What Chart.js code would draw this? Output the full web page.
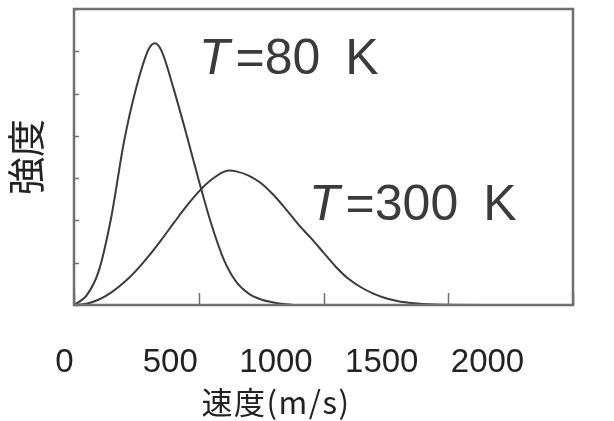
<!DOCTYPE html>
<html lang="ja">
<head>
<meta charset="utf-8">
<title>速度分布</title>
<script src="https://cdn.jsdelivr.net/npm/chart.js@4.4.1/dist/chart.umd.min.js"></script>
<style>
  html, body { margin: 0; padding: 0; background: #fff; }
  canvas { display: block; }
</style>
</head>
<body>
<canvas id="speedChart" width="614" height="421"></canvas>
<script>
// 分子の速度分布 (相対強度) — T = 80 K
const speeds80 = [0, 50, 100, 150, 200, 250, 300, 325, 350, 400, 450, 500, 550, 600, 650, 700, 750, 800, 850, 900, 1000];
const intensity80 = [0, 0.22, 0.82, 2.1, 3.85, 5.15, 6.06, 6.19, 6.02, 5.1, 4.05, 2.95, 1.92, 1.08, 0.55, 0.27, 0.13, 0.06, 0.02, 0, 0];

// T = 300 K
const speeds300 = [0, 50, 100, 150, 200, 250, 300, 350, 400, 450, 500, 550, 600, 625, 650, 700, 750, 800, 850, 900, 950, 1000, 1050, 1100, 1150, 1200, 1250, 1300, 1350, 1400, 1500, 1700];
const intensity300 = [0, 0.03, 0.13, 0.3, 0.53, 0.82, 1.16, 1.54, 1.94, 2.33, 2.68, 2.96, 3.15, 3.18, 3.16, 3.06, 2.88, 2.6, 2.26, 1.9, 1.58, 1.24, 0.9, 0.62, 0.42, 0.27, 0.16, 0.09, 0.05, 0.025, 0.005, 0];

const speedTicks = [0, 500, 1000, 1500, 2000];
const temperatures = ['80 K', '300 K'];

const LATIN = '"Liberation Sans", Arial, sans-serif';
const CJK = '"Noto Sans CJK JP", "Noto Sans CJK SC", sans-serif';
const INK = '#3b3b3b';

// where each temperature note starts, in data units (left edge / baseline)
const noteAnchors = [
  { x: 501, y: 5.46 },
  { x: 942, y: 2.02 }
];

function toPoints(xs, ys) {
  return xs.map((v, i) => ({ x: v, y: ys[i] }));
}

// frame around the plot plus short inward ticks
const framePlugin = {
  id: 'frame',
  afterDatasetsDraw(chart) {
    const { ctx, chartArea: a, scales } = chart;
    ctx.save();
    ctx.strokeStyle = '#6f6f6f';
    ctx.lineWidth = 1.5;
    ctx.beginPath();
    scales.y.ticks.forEach(t => {
      const py = Math.round(scales.y.getPixelForValue(t.value)) + 0.5;
      ctx.moveTo(a.left, py);
      ctx.lineTo(a.left + 5, py);
    });
    scales.x.ticks.forEach(t => {
      const px = Math.round(scales.x.getPixelForValue(t.value)) + 0.5;
      ctx.moveTo(px, a.bottom);
      ctx.lineTo(px, a.bottom - 12);
    });
    ctx.stroke();
    ctx.lineWidth = 2.5;
    ctx.strokeRect(a.left, a.top, a.right - a.left, a.bottom - a.top);
    ctx.restore();
  }
};

// "T =… K" notes next to the curves and the speed axis title
const textPlugin = {
  id: 'notes',
  afterDraw(chart) {
    const { ctx, scales } = chart;
    ctx.save();
    ctx.fillStyle = INK;
    ctx.textBaseline = 'alphabetic';
    ctx.textAlign = 'left';
    temperatures.forEach((temp, i) => {
      const px = scales.x.getPixelForValue(noteAnchors[i].x);
      const py = scales.y.getPixelForValue(noteAnchors[i].y);
      ctx.font = 'italic 50px ' + LATIN;
      ctx.fillText('T', px, py);
      const w = ctx.measureText('T').width;
      ctx.font = '50px ' + LATIN;
      ctx.fillText('=' + temp.replace(' ', '\u2002'), px + w + 6, py);
    });

    const lbl = scales.xl;
    ctx.font = '31px ' + CJK;
    ctx.letterSpacing = '1.5px';
    ctx.textAlign = 'center';
    ctx.textBaseline = 'middle';
    ctx.fillStyle = '#222';
    ctx.fillText('速度(m/s)', lbl.getPixelForValue(1000), 402);
    ctx.restore();
  }
};

new Chart(document.getElementById('speedChart'), {
  type: 'line',
  data: {
    datasets: [
      {
        label: 'T = 80 K',
        data: toPoints(speeds80, intensity80),
        borderColor: INK,
        borderWidth: 2,
        pointRadius: 0,
        cubicInterpolationMode: 'monotone',
        fill: false
      },
      {
        label: 'T = 300 K',
        data: toPoints(speeds300, intensity300),
        borderColor: INK,
        borderWidth: 2,
        pointRadius: 0,
        cubicInterpolationMode: 'monotone',
        fill: false
      }
    ]
  },
  options: {
    responsive: false,
    animation: false,
    layout: { padding: { top: 9, right: 41, left: 0, bottom: 0 } },
    plugins: {
      legend: { display: false },
      tooltip: { enabled: false }
    },
    scales: {
      x: {
        type: 'linear',
        min: 0,
        max: 2000,
        ticks: { display: false, stepSize: 500 },
        grid: { display: false, drawTicks: false },
        border: { display: false },
        afterFit: s => { s.height = 0; }
      },
      // tick labels run on their own, slightly compressed scale
      xl: {
        type: 'linear',
        position: 'bottom',
        bounds: 'data',
        min: 44.9,
        max: 2404.2,
        afterBuildTicks: s => { s.ticks = speedTicks.map(v => ({ value: v })); },
        ticks: {
          includeBounds: false,
          padding: 41,
          color: '#222',
          font: { family: LATIN, size: 33, lineHeight: 1 },
          maxRotation: 0,
          autoSkip: false,
          callback: v => String(v)
        },
        grid: { display: false, drawTicks: false },
        border: { display: false },
        afterFit: s => { s.height = 116; }
      },
      y: {
        min: 0,
        max: 7,
        ticks: { display: false, stepSize: 1 },
        grid: { display: false, drawTicks: false },
        border: { display: false },
        title: {
          display: true,
          text: '強度',
          color: '#222',
          font: { family: CJK, size: 38, lineHeight: 1 },
          padding: { top: 7, bottom: 0 }
        },
        afterFit: s => { s.width = 74; }
      }
    }
  },
  plugins: [framePlugin, textPlugin]
});
</script>
</body>
</html>
